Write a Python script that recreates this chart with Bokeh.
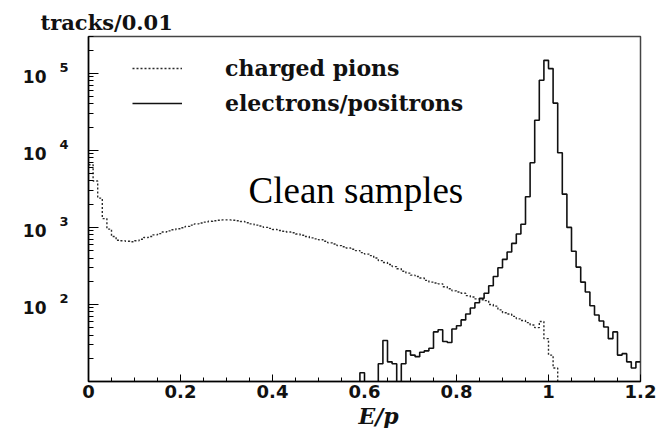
import numpy as np
from bokeh.plotting import figure
from bokeh.models import (Range1d, FixedTicker, Label, Legend, LegendItem,
                          CustomJSTickFormatter, LogAxis, Title)
from bokeh.embed import file_html
from bokeh.resources import INLINE

# ---------------- data (tracks per 0.01 bin of E/p) ----------------
bin_width = 0.01
n_bins = 120
bin_left = [round(i * bin_width, 2) for i in range(n_bins)]

pion_counts = [
    6500, 4000, 2400, 1300, 950, 760, 680, 670, 660, 650,        # 0.00-0.09
    670, 700, 740, 760, 800, 830, 870, 900, 930, 960,            # 0.10-0.19
    990, 1030, 1070, 1110, 1140, 1170, 1200, 1220, 1240, 1250,   # 0.20-0.29
    1250, 1240, 1220, 1190, 1150, 1110, 1070, 1040, 1000, 970,   # 0.30-0.39
    940, 910, 890, 870, 850, 820, 790, 760, 730, 710,            # 0.40-0.49
    690, 660, 630, 610, 580, 560, 540, 520, 500, 470,            # 0.50-0.59
    450, 430, 400, 370, 350, 330, 310, 290, 270, 255,            # 0.60-0.69
    240, 230, 220, 205, 195, 190, 185, 170, 160, 150,            # 0.70-0.79
    145, 140, 130, 125, 118, 115, 112, 100, 95, 85,              # 0.80-0.89
    78, 75, 70, 65, 62, 58, 54, 50, 60, 36,                      # 0.90-0.99
    22, 15, 0, 0, 0, 0, 0, 0, 0, 0,                              # 1.00-1.09
    0, 0, 0, 0, 0, 0, 0, 0, 0, 0,                                # 1.10-1.19
]

electron_counts = [
    0, 0, 0, 0, 0, 0, 0, 0, 0, 0,                                # 0.00-0.09
    0, 0, 0, 0, 0, 0, 0, 0, 0, 0,                                # 0.10-0.19
    0, 0, 0, 0, 0, 0, 0, 0, 0, 0,                                # 0.20-0.29
    0, 0, 0, 0, 0, 0, 0, 0, 0, 0,                                # 0.30-0.39
    0, 0, 0, 0, 0, 0, 0, 0, 0, 0,                                # 0.40-0.49
    0, 0, 0, 0, 0, 0, 0, 0, 0, 13,                               # 0.50-0.59
    0, 0, 0, 17, 34, 18, 17, 0, 17, 25,                          # 0.60-0.69
    22, 21, 24, 25, 27, 44, 47, 33, 32, 48,                      # 0.70-0.79
    53, 63, 75, 90, 105, 120, 140, 175, 230, 300,                # 0.80-0.89
    385, 480, 620, 820, 1100, 2500, 6900, 24600, 81000, 147000,  # 0.90-0.99
    115000, 41000, 9300, 2700, 1000, 490, 305, 195, 145, 96,     # 1.00-1.09
    73, 61, 51, 36, 44, 22, 23, 18, 15, 18,                      # 1.10-1.19
]

x_ticks = [0, 0.2, 0.4, 0.6, 0.8, 1.0, 1.2]
x_tick_labels = ["0", "0.2", "0.4", "0.6", "0.8", "1", "1.2"]
x_minor_ticks = [round(0.05 * i, 2) for i in range(25)]
y_exponents = [1, 2, 3, 4, 5]
y_labelled_exponents = [2, 3, 4, 5]

series_names = ["charged pions", "electrons/positrons"]
y_title = "tracks/0.01"
x_title = "E/p"
note_text = "Clean samples"

# ---------------- figure ----------------
p = figure(width=664, height=428, y_axis_type="log",
           x_range=Range1d(0, 1.2), y_range=Range1d(10, 3.0e5),
           output_backend="svg", toolbar_location=None,
           min_border_left=88, min_border_right=24,
           min_border_top=36, min_border_bottom=45)
p.background_fill_color = "white"
p.border_fill_color = "white"
p.grid.visible = False
p.outline_line_color = "#444444"
p.outline_line_width = 1.5


def step_arrays(counts):
    x = list(bin_left) + [round(n_bins * bin_width, 2)]
    vals = np.array(counts, dtype=float)
    vals = np.where(vals > 0, vals, 1.0)   # empty bins sit below the frame
    y = list(vals) + [vals[-1] if counts[-1] > 0 else 1.0]
    return x, y


px, py = step_arrays(pion_counts)
ex, ey = step_arrays(electron_counts)

r_pion = p.step(px, py, mode="after", line_color="#2a2a2a",
                line_width=1.4, line_dash="2 2")
r_elec = p.step(ex, ey, mode="after", line_color="#111111", line_width=1.6)

# ---------------- x axis ----------------
xa = p.xaxis[0]
xa.ticker = FixedTicker(ticks=x_ticks, minor_ticks=x_minor_ticks)
xa.major_label_overrides = dict(zip(x_ticks, x_tick_labels))
xa.major_tick_in = 7
xa.major_tick_out = 0
xa.minor_tick_in = 4
xa.minor_tick_out = 0
xa.axis_line_width = 1.5
xa.major_label_standoff = 3
xa.major_label_text_font = "DejaVu Sans"
xa.major_label_text_font_style = "bold"
xa.major_label_text_font_size = "18px"
xa.major_label_text_color = "#111111"

p.add_layout(Title(text=x_title, align="left", offset=270, standoff=0,
                   text_font="DejaVu Serif", text_font_style="bold italic",
                   text_font_size="22px", text_color="#111111"), "below")

# ---------------- y axis (ticks only) ----------------
y_major = [10.0 ** e for e in y_exponents]
y_minor = [m * 10.0 ** e for e in y_exponents for m in range(2, 10)]
ya = p.yaxis[0]
ya.ticker = FixedTicker(ticks=y_major, minor_ticks=y_minor)
ya.formatter = CustomJSTickFormatter(code="return ''")
ya.major_tick_in = 10
ya.major_tick_out = 0
ya.minor_tick_in = 5
ya.minor_tick_out = 0
ya.axis_line_width = 1.5
ya.major_label_standoff = 0

# exponent labels (raised a little above each decade tick)
exp_axis = LogAxis(
    ticker=FixedTicker(ticks=[10.0 ** (e + 0.075) for e in y_labelled_exponents]),
    formatter=CustomJSTickFormatter(
        code="return Math.round(Math.log10(tick)).toString()"),
    major_tick_in=0, major_tick_out=0, minor_tick_in=0, minor_tick_out=0,
    axis_line_color=None, major_label_standoff=20,
    major_label_text_font="DejaVu Sans", major_label_text_font_style="bold",
    major_label_text_font_size="13px", major_label_text_color="#111111")
p.add_layout(exp_axis, "left")

# base "10" labels (slightly below each decade tick)
base_axis = LogAxis(
    ticker=FixedTicker(ticks=[10.0 ** (e - 0.045) for e in y_labelled_exponents]),
    formatter=CustomJSTickFormatter(code="return '10'"),
    major_tick_in=0, major_tick_out=0, minor_tick_in=0, minor_tick_out=0,
    axis_line_color=None, major_label_standoff=10,
    major_label_text_font="DejaVu Sans", major_label_text_font_style="bold",
    major_label_text_font_size="17px", major_label_text_color="#111111")
p.add_layout(base_axis, "left")

# y title at the top-left
p.add_layout(Title(text=y_title, align="left", offset=-48, standoff=4,
                   text_font="DejaVu Serif", text_font_style="bold",
                   text_font_size="21px", text_color="#111111"), "above")

# annotation inside the frame
p.add_layout(Label(x=160, y=191, x_units="screen", y_units="screen",
                   text=note_text, text_align="left",
                   text_baseline="alphabetic", text_font="Liberation Serif",
                   text_font_style="normal", text_font_size="37px",
                   text_color="black"))

legend = Legend(items=[LegendItem(label=series_names[0], renderers=[r_pion]),
                       LegendItem(label=series_names[1], renderers=[r_elec])],
                location=(44, 265), glyph_width=50, glyph_height=20,
                label_height=20, label_standoff=43, spacing=9, padding=0,
                margin=0, border_line_alpha=0, background_fill_alpha=0,
                label_text_font="DejaVu Serif", label_text_font_style="bold",
                label_text_font_size="22px", label_text_color="#111111")
p.add_layout(legend)

open("out.html", "w").write(file_html(p, INLINE))
